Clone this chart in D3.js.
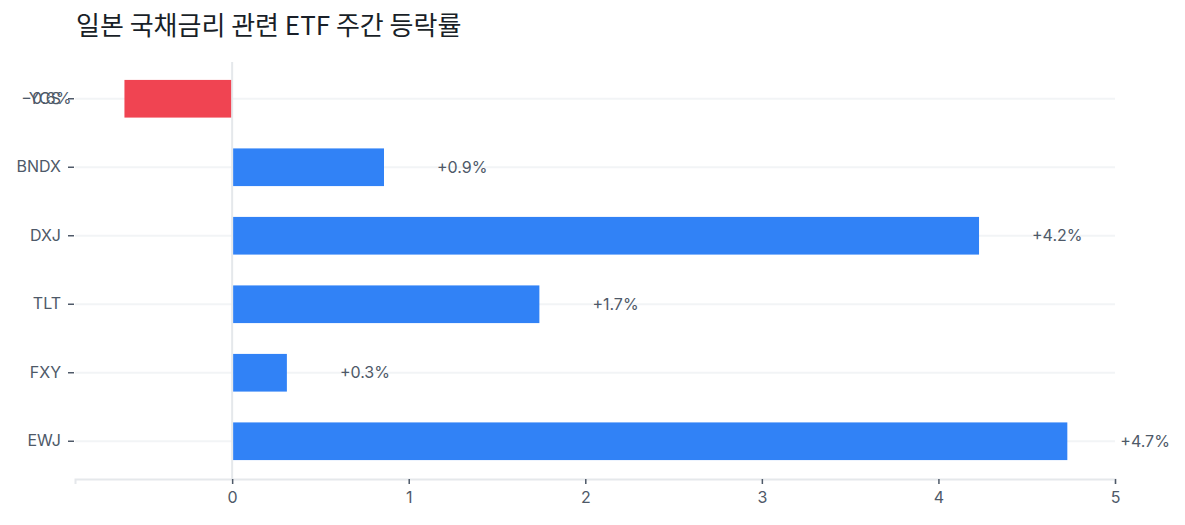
<!DOCTYPE html>
<html>
<head>
<meta charset="utf-8">
<script src="https://cdn.jsdelivr.net/npm/d3@7"></script>
<style>
  body { margin: 0; background: #fff; font-family: Inter, "Noto Sans CJK KR", sans-serif; }
  .title { font-family: "Noto Sans CJK KR", sans-serif; font-size: 26px; fill: #191f28; }
  .tick text { fill: #4e5968; font-size: 16px; font-family: Inter, "Noto Sans CJK KR", sans-serif; }
</style>
</head>
<body>
<div id="chart"></div>
<script>
// weekly change (%) of Japan rate related ETFs
const tickers = ["YCS", "BNDX", "DXJ", "TLT", "FXY", "EWJ"];
const changes = [-0.61, 0.86, 4.23, 1.74, 0.31, 4.73];
const xTicks = [0, 1, 2, 3, 4, 5];

const width = 1185, height = 525;
const margin = { top: 64, right: 70, bottom: 46, left: 75 };

const svg = d3.select('#chart').append('svg')
  .attr('width', width)
  .attr('height', height);

svg.append('text')
  .attr('class', 'title')
  .attr('x', 76)
  .attr('y', 35)
  .text('일본 국채금리 관련 ETF 주간 등락률');

const x = d3.scaleLinear()
  .domain([-0.89, 5])
  .range([margin.left, width - margin.right]);

const y = d3.scaleBand()
  .domain(tickers)
  .range([margin.top + 0.5, height - margin.bottom - 3.5])
  .paddingInner(0.45)
  .paddingOuter(0.225);

// horizontal grid lines
svg.append('g')
  .selectAll('line')
  .data(tickers)
  .join('line')
  .attr('x1', x.range()[0])
  .attr('x2', x.range()[1])
  .attr('y1', d => y(d) + y.bandwidth() / 2)
  .attr('y2', d => y(d) + y.bandwidth() / 2)
  .attr('stroke', '#f2f4f6')
  .attr('stroke-width', 2);

// zero line
svg.append('line')
  .attr('x1', x(0)).attr('x2', x(0))
  .attr('y1', 62).attr('y2', height - margin.bottom)
  .attr('stroke', '#e5e8eb')
  .attr('stroke-width', 2);

// x axis
const xAxis = svg.append('g')
  .attr('transform', `translate(0,${height - margin.bottom})`)
  .call(d3.axisBottom(x).tickValues(xTicks).tickFormat(d3.format('d')).tickSize(5).tickPadding(8));
xAxis.select('.domain').attr('stroke', '#e5e8eb').attr('stroke-width', 2);
xAxis.selectAll('.tick line').attr('stroke', '#4e5968').attr('stroke-width', 1.5);

// y axis
const yAxis = svg.append('g')
  .attr('transform', `translate(${margin.left - 1},0)`)
  .call(d3.axisLeft(y).tickSize(6).tickPadding(7));
yAxis.select('.domain').remove();
yAxis.selectAll('.tick line').attr('stroke', '#4e5968').attr('stroke-width', 1.5);

const data = tickers.map((t, i) => ({ name: t, value: changes[i] }));
const fmt = d3.format('+.1f');

// bars
svg.append('g')
  .selectAll('rect')
  .data(data)
  .join('rect')
  .attr('x', d => d.value >= 0 ? x(0) + 1 : x(d.value))
  .attr('y', d => y(d.name))
  .attr('width', d => Math.abs(x(d.value) - x(0)) - 1)
  .attr('height', y.bandwidth())
  .attr('fill', d => d.value >= 0 ? '#3182f6' : '#f04452');

// value labels
svg.append('g')
  .selectAll('text')
  .data(data)
  .join('text')
  .attr('x', d => x(d.value) + (d.value >= 0 ? 53 : -53))
  .attr('y', d => y(d.name) + y.bandwidth() / 2)
  .attr('dy', '0.35em')
  .attr('text-anchor', d => d.value >= 0 ? 'start' : 'end')
  .attr('fill', '#4e5968')
  .attr('font-size', 16)
  .text(d => fmt(d.value) + '%');
</script>
</body>
</html>
